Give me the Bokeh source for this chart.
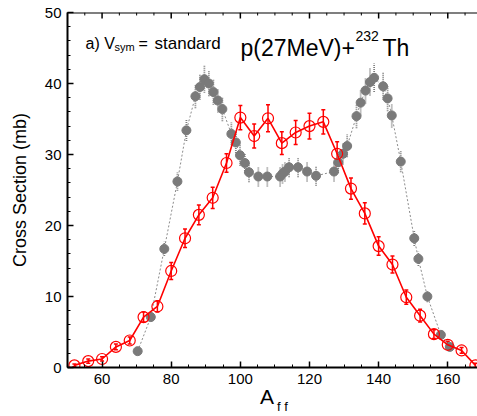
from bokeh.plotting import figure
from bokeh.models import (ColumnDataSource, Whisker, TeeHead, LinearAxis, SingleIntervalTicker,
                          FixedTicker, Range1d, Label)
from bokeh.embed import file_html
from bokeh.resources import INLINE

# ---- data ----
red_A = [52, 56, 60, 64, 68, 72, 76, 80, 84, 88, 92, 96, 100, 104, 108, 112, 116, 120,
         124, 128, 132, 136, 140, 144, 148, 152, 156, 160, 164, 168]
red_y = [0.3, 0.9, 1.2, 2.9, 3.8, 7.1, 8.6, 13.6, 18.2, 21.5, 23.9, 28.8, 35.2, 32.6, 35.1,
         31.6, 33.1, 34.0, 34.6, 30.1, 25.2, 21.7, 17.1, 14.5, 9.9, 7.3, 4.7, 3.2, 2.4, 0.3]
red_err = [0.2, 0.3, 0.3, 0.4, 0.5, 0.7, 0.8, 1.2, 1.3, 1.4, 1.5, 1.3, 1.7, 1.7, 1.9, 1.6,
           1.7, 1.8, 1.7, 1.7, 1.5, 1.5, 1.3, 1.2, 1.0, 0.9, 0.6, 0.5, 0.4, 0.3]

gray_A = [70.3, 74.1, 78.0, 81.8, 84.4, 87.0, 88.3, 89.6, 90.9, 92.2, 93.5, 94.8, 97.4, 98.7,
          99.9, 101.3, 102.5, 105.2, 107.8, 111.5, 112.2, 112.9, 114.1, 116.7, 119.3, 121.9,
          127.1, 128.3, 129.7, 130.9, 133.6, 134.8, 136.2, 137.5, 138.7, 141.3, 142.6, 143.8,
          146.4, 150.3, 151.5, 154.1, 158.0, 160.6]
gray_y = [2.3, 7.1, 16.7, 26.2, 33.4, 38.2, 39.5, 40.6, 40.0, 38.8, 37.6, 36.4, 32.9, 31.7,
          29.9, 28.8, 27.5, 26.9, 26.9, 26.9, 27.3, 27.6, 28.2, 28.2, 27.6, 27.0,
          27.6, 28.9, 30.1, 31.2, 35.4, 37.3, 39.0, 40.2, 40.8, 39.6, 37.9, 35.5,
          29.0, 18.2, 15.3, 10.0, 4.6, 2.9]
gray_err = [0.4, 0.6, 1.0, 1.3, 1.5, 1.7, 1.8, 1.9, 1.8, 1.8, 1.7, 1.7, 1.6, 1.5,
            1.5, 1.4, 1.4, 1.4, 1.4, 1.4, 1.4, 1.4, 1.4, 1.4, 1.4, 1.4,
            1.4, 1.5, 1.5, 1.6, 1.7, 1.8, 1.8, 1.9, 2.0, 1.9, 1.8, 1.7,
            1.5, 1.1, 1.0, 0.8, 0.5, 0.4]

x_major_ticks = [60, 80, 100, 120, 140, 160]
x_minor_ticks = [55, 65, 70, 75, 85, 90, 95, 105, 110, 115, 125, 130, 135, 145, 150, 155, 165]

FONT = "Liberation Sans"
X0, X1, Y0, Y1 = 50, 168.6, 0, 50
A_POS, FF_POS = 107.7, 112.2   # where the x-axis title pieces sit

red_src = ColumnDataSource(dict(x=red_A, y=red_y,
                                lo=[v - e for v, e in zip(red_y, red_err)],
                                hi=[v + e for v, e in zip(red_y, red_err)]))
gray_src = ColumnDataSource(dict(x=gray_A, y=gray_y,
                                 lo=[v - e for v, e in zip(gray_y, gray_err)],
                                 hi=[v + e for v, e in zip(gray_y, gray_err)]))

p = figure(width=477, height=416, output_backend="svg", toolbar_location=None,
           x_range=Range1d(X0, X1), y_range=Range1d(Y0, Y1), title=None,
           min_border_left=67, min_border_right=0, min_border_top=12, min_border_bottom=48,
           x_axis_location=None, y_axis_location=None)
p.outline_line_color = None
p.grid.visible = False
p.background_fill_color = "white"
p.border_fill_color = "white"

xt = SingleIntervalTicker(interval=20, num_minor_ticks=4)
yt = SingleIntervalTicker(interval=10, num_minor_ticks=5)

def style(ax):
    ax.axis_line_color = "black"
    ax.axis_line_width = 2
    ax.major_tick_in = 6
    ax.major_tick_out = 0
    ax.minor_tick_in = 3
    ax.minor_tick_out = 0
    ax.major_tick_line_color = "black"
    ax.minor_tick_line_color = "black"
    ax.major_tick_line_width = 1.5
    ax.minor_tick_line_width = 1
    ax.major_label_text_font = FONT
    ax.major_label_text_font_size = "15px"
    ax.major_label_text_color = "black"
    ax.major_label_standoff = 6

xb = LinearAxis(ticker=xt)
style(xb)
p.add_layout(xb, "below")

def title_axis(text, pos, size, standoff):
    ax = LinearAxis(ticker=FixedTicker(ticks=[pos], minor_ticks=[]),
                    major_label_overrides={pos: text})
    ax.axis_line_color = None
    ax.major_tick_line_color = None
    ax.minor_tick_line_color = None
    ax.major_tick_in = 0
    ax.major_tick_out = 0
    ax.major_label_text_font = FONT
    ax.major_label_text_font_size = size
    ax.major_label_text_color = "black"
    ax.major_label_standoff = standoff
    p.add_layout(ax, "below")

title_axis("A", A_POS, "21px", -2)
title_axis("f f", FF_POS, "13px", -12)

yl = LinearAxis(ticker=yt, axis_label="Cross Section (mb)")
style(yl)
yl.axis_label_text_font = FONT
yl.axis_label_text_font_size = "18px"
yl.axis_label_text_font_style = "normal"
yl.axis_label_text_color = "black"
yl.axis_label_standoff = 12
p.add_layout(yl, "left")

# top frame line with inward ticks
p.segment(x0=[X0], y0=[Y1], x1=[X1], y1=[Y1], line_color="black", line_width=2)
p.segment(x0=x_major_ticks, y0=[Y1] * len(x_major_ticks), x1=x_major_ticks,
          y1=[Y1 - 0.84] * len(x_major_ticks), line_color="black", line_width=1.5)
p.segment(x0=x_minor_ticks, y0=[Y1] * len(x_minor_ticks), x1=x_minor_ticks,
          y1=[Y1 - 0.42] * len(x_minor_ticks), line_color="black", line_width=1)

# gray series (dotted)
p.line("x", "y", source=gray_src, line_color="#8c8c8c", line_width=1, line_dash="2 2")
p.segment(x0="x", y0="lo", x1="x", y1="hi", source=gray_src, line_color="#808080",
          line_width=1.8, line_dash="1 1")
p.scatter("x", "y", source=gray_src, size=9, marker="circle", fill_color="#7a7a7a",
          line_color="#7a7a7a")

# red series
p.line("x", "y", source=red_src, line_color="red", line_width=1.6)
p.add_layout(Whisker(base="x", lower="lo", upper="hi", source=red_src, line_color="red",
                     line_width=1.5,
                     upper_head=TeeHead(size=4, line_color="red", line_width=1.5),
                     lower_head=TeeHead(size=4, line_color="red", line_width=1.5)))
p.scatter("x", "y", source=red_src, size=11, marker="circle", fill_color=None,
          line_color="red", line_width=1.2)

def lab(text, sx, sy, size):
    p.add_layout(Label(x=sx, y=sy, x_units="screen", y_units="screen", text=text,
                       text_font=FONT, text_font_size=size, text_color="black",
                       text_baseline="alphabetic", text_align="left"))

# frame left = 67, bottom = 368 (canvas px); screen units are relative to frame
lab("a) V", 18, 324, "16px")
lab("sym", 47, 321, "11px")
lab("=", 71, 324, "16px")
lab("standard", 87, 324, "17px")
lab("p(27MeV)+", 173, 320, "23px")
lab("232", 288, 332, "14px")
lab("Th", 315, 320, "23px")

open("out.html", "w").write(file_html(p, INLINE))
